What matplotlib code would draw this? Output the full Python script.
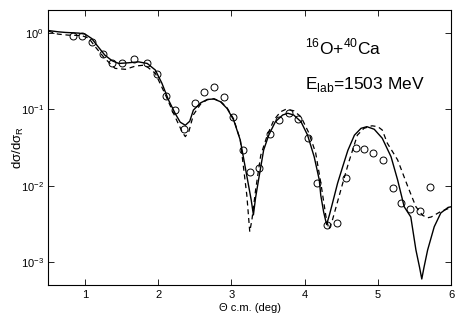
import matplotlib
matplotlib.use('Agg')
import matplotlib.pyplot as plt

plt.rcParams['font.family'] = ['Liberation Sans', 'DejaVu Sans']
plt.rcParams['mathtext.fontset'] = 'custom'
plt.rcParams['mathtext.rm'] = 'Liberation Sans'

# measured cross sections (ratio to Rutherford)
theta_exp = [0.83, 0.96, 1.10, 1.24, 1.37, 1.51, 1.67, 1.85, 1.98, 2.11,
             2.23, 2.35, 2.50, 2.63, 2.76, 2.90, 3.02, 3.16, 3.25, 3.38,
             3.52, 3.65, 3.78, 3.91, 4.04, 4.17, 4.30, 4.44, 4.57, 4.70,
             4.81, 4.94, 5.07, 5.21, 5.31, 5.44, 5.58, 5.71]
sig_exp = [0.91, 0.92, 0.755, 0.536, 0.40, 0.41, 0.46, 0.40, 0.29, 0.150,
           0.097, 0.056, 0.120, 0.167, 0.198, 0.147, 0.080, 0.0294, 0.0153, 0.0173,
           0.0472, 0.0726, 0.089, 0.0748, 0.0419, 0.0108, 0.0031, 0.00324, 0.0125, 0.031,
           0.030, 0.0269, 0.0218, 0.0094, 0.0059, 0.00497, 0.00472, 0.0097]

# calculation 1 (solid)
theta_a = [0.50, 0.63, 0.73, 0.91, 1.00, 1.09, 1.18, 1.27, 1.37, 1.46,
           1.59, 1.73, 1.85, 1.96, 2.05, 2.14, 2.23, 2.30, 2.37, 2.43,
           2.48, 2.58, 2.67, 2.76, 2.85, 2.94, 3.03, 3.12, 3.22, 3.27,
           3.30, 3.33, 3.37, 3.44, 3.51, 3.60, 3.70, 3.77, 3.85, 3.95,
           4.04, 4.13, 4.20, 4.22, 4.26, 4.30, 4.34, 4.38, 4.45, 4.52,
           4.59, 4.68, 4.77, 4.85, 4.95, 5.06, 5.18, 5.27, 5.36, 5.45,
           5.52, 5.57, 5.60, 5.63, 5.68, 5.77, 5.86, 5.96, 6.00]
sig_a = [1.08, 1.04, 1.02, 1.00, 0.97, 0.85, 0.66, 0.515, 0.434, 0.40,
         0.408, 0.42, 0.40, 0.328, 0.22, 0.133, 0.089, 0.068, 0.062, 0.070,
         0.098, 0.122, 0.135, 0.137, 0.126, 0.103, 0.0727, 0.0398, 0.0119, 0.0065,
         0.00415, 0.0070, 0.0119, 0.0294, 0.0462, 0.069, 0.0845, 0.089, 0.0845, 0.069,
         0.046, 0.024, 0.0119, 0.0075, 0.0045, 0.0031, 0.0042, 0.0059, 0.0108, 0.0178,
         0.029, 0.046, 0.0565, 0.0594, 0.055, 0.0419, 0.024, 0.0119, 0.0053, 0.0039,
         0.00144, 0.00085, 0.00060, 0.00085, 0.00144, 0.0029, 0.0044, 0.0052, 0.0053]

# calculation 2 (dashed)
theta_b = [0.50, 0.63, 0.77, 0.95, 1.05, 1.14, 1.27, 1.41, 1.55, 1.69,
           1.82, 1.96, 2.10, 2.23, 2.33, 2.37, 2.42, 2.48, 2.58, 2.67,
           2.76, 2.85, 2.94, 3.03, 3.12, 3.21, 3.25, 3.28, 3.33, 3.40,
           3.49, 3.58, 3.67, 3.75, 3.85, 3.95, 4.06, 4.15, 4.22, 4.29,
           4.33, 4.37, 4.43, 4.52, 4.60, 4.72, 4.81, 4.92, 5.00, 5.06,
           5.13, 5.27, 5.41, 5.52, 5.61, 5.68, 5.73, 5.86, 5.98]
sig_b = [1.06, 0.97, 0.94, 0.93, 0.86, 0.66, 0.466, 0.345, 0.335, 0.37,
         0.381, 0.297, 0.154, 0.080, 0.050, 0.044, 0.052, 0.085, 0.118, 0.134,
         0.138, 0.128, 0.105, 0.075, 0.040, 0.0075, 0.0025, 0.0036, 0.0088, 0.0250,
         0.046, 0.0727, 0.093, 0.101, 0.096, 0.080, 0.0486, 0.027, 0.011, 0.0040,
         0.0027, 0.0033, 0.0053, 0.0108, 0.020, 0.046, 0.0565, 0.061, 0.0594, 0.0537,
         0.036, 0.0218, 0.0097, 0.0053, 0.0041, 0.0038, 0.0039, 0.0046, 0.0051]

fig = plt.figure(figsize=(4.57, 3.16), dpi=100)
ax = fig.add_axes([0.106, 0.098, 0.881, 0.870])

ax.semilogy(theta_a, sig_a, '-', color='black', lw=1.0)
ax.semilogy(theta_b, sig_b, '--', color='black', lw=0.9, dashes=(4, 3))
ax.semilogy(theta_exp, sig_exp, 'o', mfc='none', mec='black', ms=5, mew=0.7)

ax.set_xlim(0.5, 6)
ax.set_ylim(5e-4, 2)
ax.set_xticks([1, 2, 3, 4, 5, 6])
ax.set_yticks([1e-3, 1e-2, 1e-1, 1])
ax.minorticks_off()
ax.tick_params(direction='in', top=True, right=True, length=4, width=0.6,
               labelsize=8)
for s in ax.spines.values():
    s.set_linewidth(0.8)

ax.set_xlabel('Θ c.m. (deg)', fontsize=8, labelpad=2)
ax.set_ylabel('dσ/dσ$_\\mathregular{R}$', fontsize=9.5)
ax.yaxis.set_label_coords(-0.055, 0.5)

ax.text(4.01, 0.66, '$^\\mathregular{16}$O+$^\\mathregular{40}$Ca', fontsize=12.5,
        va='center', ha='left')
ax.text(4.01, 0.215, 'E$_\\mathregular{lab}$=1503 MeV', fontsize=12.5,
        va='center', ha='left')

fig.savefig('out.png', dpi=100)
